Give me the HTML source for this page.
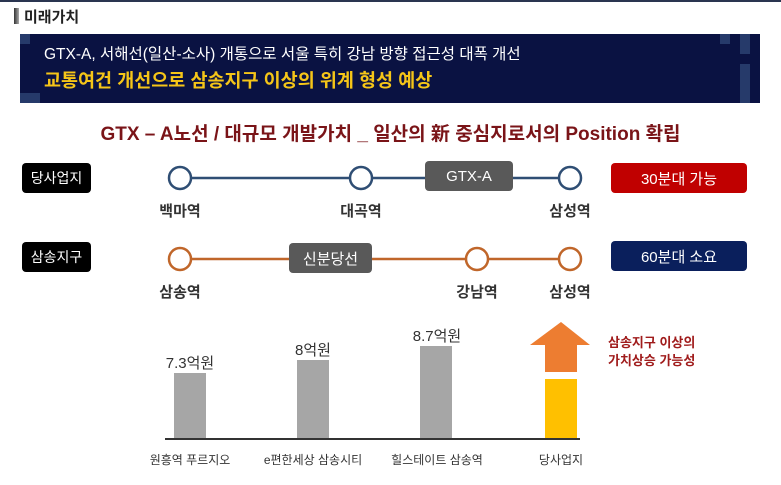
<!DOCTYPE html>
<html><head><meta charset="utf-8"><style>
body{margin:0;width:781px;height:485px;background:#fff;position:relative;overflow:hidden;font-family:"Liberation Sans","Noto Sans CJK KR",sans-serif}
.a{position:absolute}
.box{position:absolute;color:#fff;font-size:14px;display:flex;align-items:center;justify-content:center;border-radius:4px}
.lbl{position:absolute;font-size:15px;font-weight:bold;color:#333;transform:translateX(-50%);white-space:nowrap}
.bl{position:absolute;font-size:12px;color:#333;transform:translateX(-50%);white-space:nowrap}
.val{position:absolute;font-size:15px;color:#333;transform:translateX(-50%);white-space:nowrap}
</style></head><body>
<div class="a" style="left:0;top:0;width:781px;height:2px;background:#2a3550"></div>
<div class="a" style="left:14px;top:8px;width:5px;height:16px;background:linear-gradient(90deg,#333,#aaa)"></div>
<div class="a" style="left:24px;top:6px;font-size:15px;font-weight:bold;color:#222">미래가치</div>
<div class="a" style="left:20px;top:34px;width:740px;height:69px;background:#0a1242"></div>
<div class="a" style="left:20px;top:34px;width:10px;height:10px;background:#263a6a"></div>
<div class="a" style="left:20px;top:93px;width:10px;height:10px;background:#263a6a"></div>
<div class="a" style="left:30px;top:93px;width:10px;height:10px;background:#263a6a"></div>
<div class="a" style="left:720px;top:34px;width:10px;height:10px;background:#263a6a"></div>
<div class="a" style="left:740px;top:34px;width:10px;height:20px;background:#263a6a"></div>
<div class="a" style="left:740px;top:64px;width:10px;height:39px;background:#263a6a"></div>
<div class="a" style="left:44px;top:42px;font-size:15.5px;color:#fff">GTX-A, 서해선(일산-소사) 개통으로 서울 특히 강남 방향 접근성 대폭 개선</div>
<div class="a" style="left:44px;top:67px;font-size:18.5px;font-weight:bold;color:#f5c518">교통여건 개선으로 삼송지구 이상의 위계 형성 예상</div>
<div class="a" style="left:0;width:781px;top:119px;text-align:center;font-size:19px;font-weight:bold;color:#7a1418">GTX – A노선 / 대규모 개발가치 _ 일산의 新 중심지로서의 Position 확립</div>

<svg class="a" style="left:0;top:0" width="781" height="485">
<line x1="180" y1="178" x2="570" y2="178" stroke="#2f4e74" stroke-width="2.5"/>
<circle cx="180" cy="178" r="11" fill="#fff" stroke="#2f4e74" stroke-width="2.5"/>
<circle cx="361" cy="178" r="11" fill="#fff" stroke="#2f4e74" stroke-width="2.5"/>
<circle cx="570" cy="178" r="11" fill="#fff" stroke="#2f4e74" stroke-width="2.5"/>
<line x1="180" y1="259" x2="570" y2="259" stroke="#c0662a" stroke-width="2.5"/>
<circle cx="180" cy="259" r="11" fill="#fff" stroke="#c0662a" stroke-width="2.5"/>
<circle cx="477" cy="259" r="11" fill="#fff" stroke="#c0662a" stroke-width="2.5"/>
<circle cx="570" cy="259" r="11" fill="#fff" stroke="#c0662a" stroke-width="2.5"/>
<rect x="174" y="373" width="32" height="65" fill="#a6a6a6"/>
<rect x="297" y="360" width="32" height="78" fill="#a6a6a6"/>
<rect x="420" y="346" width="32" height="92" fill="#a6a6a6"/>
<rect x="545" y="379" width="32" height="59" fill="#ffc000"/>
<polygon points="545,372 577,372 577,345 590,345 561,322 530,345 545,345" fill="#ed7d31"/>
<line x1="165" y1="439" x2="580" y2="439" stroke="#333" stroke-width="2"/>
</svg>

<div class="box" style="left:22px;top:163px;width:69px;height:30px;background:#000">당사업지</div>
<div class="box" style="left:425px;top:161px;width:88px;height:30px;background:#595959;font-size:15px">GTX-A</div>
<div class="box" style="left:611px;top:163px;width:136px;height:30px;background:#c00000;font-size:15px">30분대 가능</div>
<div class="box" style="left:22px;top:242px;width:69px;height:30px;background:#000">삼송지구</div>
<div class="box" style="left:289px;top:243px;width:83px;height:30px;background:#595959;font-size:15px">신분당선</div>
<div class="box" style="left:611px;top:241px;width:136px;height:30px;background:#0a1f5c;font-size:15px">60분대 소요</div>

<div class="lbl" style="left:180px;top:200px">백마역</div>
<div class="lbl" style="left:361px;top:200px">대곡역</div>
<div class="lbl" style="left:570px;top:200px">삼성역</div>
<div class="lbl" style="left:180px;top:281px">삼송역</div>
<div class="lbl" style="left:477px;top:281px">강남역</div>
<div class="lbl" style="left:570px;top:281px">삼성역</div>

<div class="val" style="left:190px;top:352px">7.3억원</div>
<div class="val" style="left:313px;top:339px">8억원</div>
<div class="val" style="left:437px;top:325px">8.7억원</div>
<div class="a" style="left:608px;top:334px;font-size:13px;font-weight:bold;color:#a01c1c;line-height:18px">삼송지구 이상의<br>가치상승 가능성</div>
<div class="bl" style="left:190px;top:451px">원흥역 푸르지오</div>
<div class="bl" style="left:313px;top:451px">e편한세상 삼송시티</div>
<div class="bl" style="left:437px;top:451px">힐스테이트 삼송역</div>
<div class="bl" style="left:561px;top:451px">당사업지</div>
</body></html>
